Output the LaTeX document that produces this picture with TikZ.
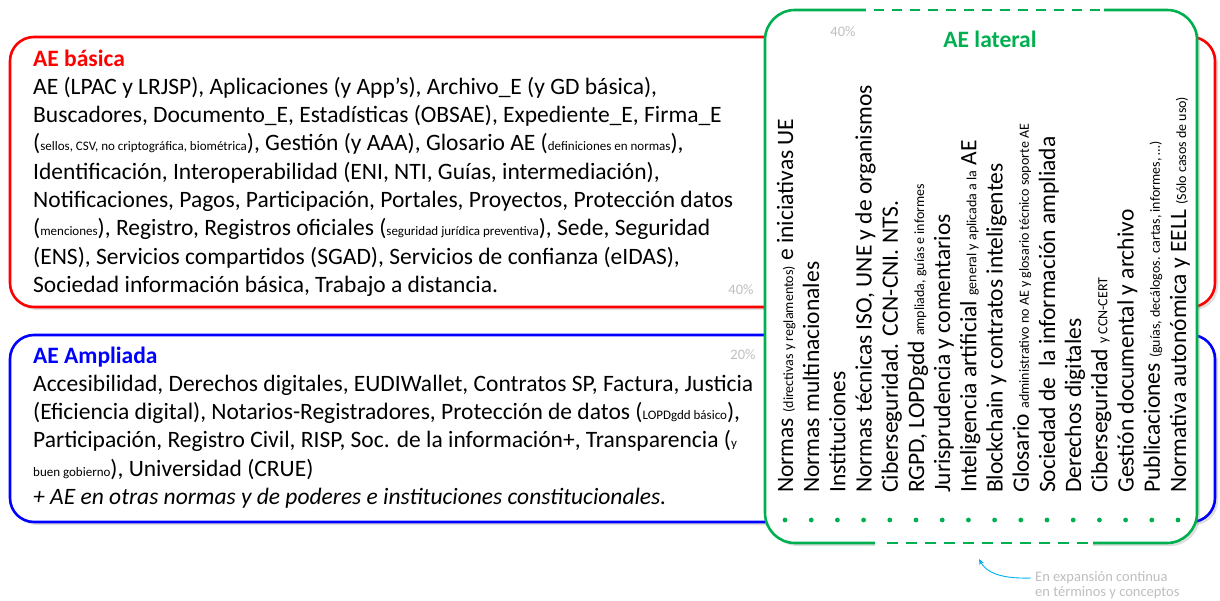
\documentclass[tikz,border=0pt]{standalone}
\usepackage{fontspec}
\setmainfont{Carlito}
\usetikzlibrary{arrows.meta, shadows}

\definecolor{aered}{RGB}{255,0,0}
\definecolor{aeblue}{RGB}{0,0,255}
\definecolor{aegreen}{RGB}{0,176,80}
\definecolor{pctgray}{RGB}{191,191,191}
\definecolor{notecyan}{RGB}{0,176,240}

% small inline text
\newcommand{\sm}[1]{{\fontsize{13}{13}\selectfont #1}}
\newcommand{\vsm}[1]{{\fontsize{14}{14}\selectfont #1}}

\tikzset{
  areabox/.style={draw=#1, line width=2.6pt, rounded corners=24pt, fill=white,
    drop shadow={opacity=0.25, shadow xshift=3pt, shadow yshift=-3pt}, inner sep=0pt},
  areatext/.style={align=left, inner sep=0pt, font=\fontsize{23.5}{28.3}\selectfont},
  title/.style={inner sep=0pt, font=\fontsize{23.5}{28.3}\selectfont\bfseries},
  column/.style={rotate=90, anchor=base west, inner sep=0pt, font=\fontsize{23.5}{28.3}\selectfont},
  pct/.style={text=pctgray, inner sep=0pt, font=\fontsize{14.5}{15}\selectfont},
  note/.style={text=pctgray, align=left, inner sep=0pt, font=\fontsize{14.5}{15.5}\selectfont},
  notearrow/.style={-{Stealth[length=6pt, width=5pt]}, draw=notecyan, line width=0.9pt}
}

\begin{document}
\begin{tikzpicture}[x=1pt, y=-1pt]

  \useasboundingbox[fill=white] (0,0) rectangle (1220,601);

  % AE basica (base anchor sits on the last line)
  \node[areabox=aered, minimum width=1205pt, minimum height=270pt] (basica) at (612.5,172) {};
  \node[areatext, anchor=base west] (basicatext) at (33,292.5) {%
    {\bfseries\color{aered}AE básica}\\
    AE (LPAC y LRJSP), Aplicaciones (y App’s), Archivo\_E (y GD básica),\\
    Buscadores, Documento\_E, Estadísticas (OBSAE), Expediente\_E, Firma\_E\\
    (\sm{sellos, CSV, no criptográfica, biométrica}), Gestión (y AAA), Glosario AE (\sm{definiciones en normas}),\\
    Identificación, Interoperabilidad (ENI, NTI, Guías, intermediación),\\
    Notificaciones, Pagos, Participación, Portales, Proyectos, Protección datos\\
    (\sm{menciones}), Registro, Registros oficiales (\sm{seguridad jurídica preventiva}), Sede, Seguridad\\
    (ENS), Servicios compartidos (SGAD), Servicios de confianza (eIDAS),\\
    Sociedad información básica, Trabajo a distancia.};
  \node[pct] (pctbasica) at (741,290) {40\%};

  % AE ampliada
  \node[areabox=aeblue, minimum width=1205pt, minimum height=187pt] (ampliada) at (612.5,428.5) {};
  \node[areatext, anchor=base west] (ampliadatext) at (33,504.5) {%
    {\bfseries\color{aeblue}AE Ampliada}\\
    Accesibilidad, Derechos digitales, EUDIWallet, Contratos SP, Factura, Justicia\\
    (Eficiencia digital), Notarios-Registradores, Protección de datos (\sm{LOPDgdd básico}),\\
    Participación, Registro Civil, RISP, Soc. de la información+, Transparencia (\sm{y}\\
    \sm{buen gobierno}), Universidad (CRUE)\\
    \textit{+ AE en otras normas y de poderes e instituciones constitucionales.}};
  \node[pct] (pctampliada) at (743,355) {20\%};

  % AE lateral
  \node[areabox=aegreen, rounded corners=30pt, minimum width=432pt, minimum height=533pt] (lateral) at (981,276.5) {};
  \draw[white, line width=5pt] (866,10) -- (1104,10);
  \draw[aegreen, line width=2.6pt, dash pattern=on 10pt off 8pt] (874,10) -- (1102,10);
  \draw[white, line width=5pt] (875,543) -- (1093,543);
  \draw[aegreen, line width=2.6pt, dash pattern=on 11pt off 8pt] (887,543) -- (1090,543);
  \node[title, text=aegreen] (lateraltitle) at (990,39) {AE lateral};
  \node[pct] (pctlateral) at (843,32) {40\%};

  % columns
  \foreach \txt [count=\i] in {%
      {Normas \vsm{(directivas y reglamentos)} e iniciativas UE},
      {Normas multinacionales},
      {Instituciones},
      {Normas técnicas ISO, UNE y de organismos},
      {Ciberseguridad. CCN-CNI. NTS.},
      {RGPD, LOPDgdd \vsm{ampliada, guías e informes}},
      {Jurisprudencia y comentarios},
      {Inteligencia artificial \vsm{general y aplicada a la} AE},
      {Blockchain y contratos inteligentes},
      {Glosario \vsm{administrativo no AE y glosario técnico soporte AE}},
      {Sociedad de\ \ la información ampliada},
      {Derechos digitales},
      {Ciberseguridad \vsm{y CCN-CERT}},
      {Gestión documental y archivo},
      {Publicaciones \vsm{(guías, decálogos. cartas, informes, …)}},
      {Normativa autonómica y EELL \vsm{(Sólo casos de uso)}}}
    \node[column] (col\i) at ({793+(\i-1)*26.2},493) {\txt};

  % dots
  \foreach \i in {0,...,15}
    \fill[aegreen] ({785+\i*26.2},520) circle (2.4);

  % note
  \node[note, anchor=west] (expansion) at (1035,585) {En expansión continua\\en términos y conceptos};
  \coordinate (growtip) at (979,559);
  \draw[notearrow] ([xshift=-4pt, yshift=7pt]expansion.west) .. controls (1000,579) and (986,572) .. (growtip);

\end{tikzpicture}
\end{document}
